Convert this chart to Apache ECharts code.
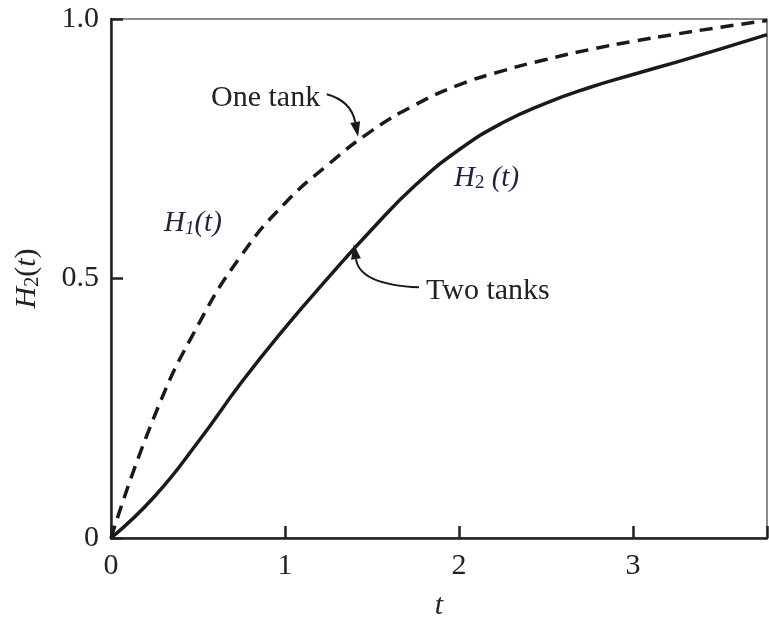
<!DOCTYPE html>
<html>
<head>
<meta charset="utf-8">
<script src="https://cdn.jsdelivr.net/npm/echarts@6/dist/echarts.min.js"></script>
<style>
html, body { margin: 0; padding: 0; background: #fff; }
#chart { width: 769px; height: 624px; }
</style>
</head>
<body>
<div id="chart"></div>
<script>
// values
var tValues = [0, 0.25, 0.5, 0.75, 1.0, 1.25, 1.5, 1.75, 2.0, 2.25, 2.5, 2.75, 3.0, 3.25, 3.5, 3.77];
var oneTank = [0, 0.235, 0.41, 0.545, 0.645, 0.72, 0.785, 0.835, 0.873, 0.90, 0.922, 0.941, 0.957, 0.971, 0.984, 0.997];
var twoTanks = [0, 0.08, 0.185, 0.30, 0.405, 0.502, 0.595, 0.68, 0.748, 0.80, 0.838, 0.868, 0.893, 0.917, 0.942, 0.97];
var xTicks = [0, 1, 2, 3];
var yTicks = [0, 0.5, 1.0];

// callout arrows: tail, bend, tip (in t / H units)
var oneTankArrow = [[1.24, 0.855], [1.38, 0.842], [1.42, 0.773]];
var twoTanksArrow = [[1.77, 0.483], [1.43, 0.488], [1.395, 0.566]];

var serif = '"Liberation Serif", "DejaVu Serif", serif';

function pairs(xs, ys) {
	var out = [];
	for (var i = 0; i < xs.length; i++) out.push([xs[i], ys[i]]);
	return out;
}

var myChart = echarts.init(document.getElementById('chart'));
var option = {
	animation: false,
	backgroundColor: '#fff',
	grid: {
		left: 111, top: 19, right: 2, bottom: 86,
		outerBoundsMode: 'none',
		containLabel: false,
		show: true, borderColor: '#666', borderWidth: 1.5
	},
	xAxis: {
		type: 'value', min: 0, max: 3.77, interval: 1,
		name: 't', nameLocation: 'middle', nameGap: 53,
		nameTextStyle: { fontFamily: serif, fontStyle: 'italic', fontSize: 30, color: '#222' },
		axisLine: { lineStyle: { color: '#222', width: 2.5 } },
		axisTick: { inside: true, length: 12, lineStyle: { color: '#222', width: 2.5 } },
		axisLabel: {
			margin: 13, fontFamily: serif, fontSize: 30, color: '#222',
			formatter: function(v) { return xTicks.indexOf(v) >= 0 ? String(v) : ''; }
		},
		splitLine: { show: false }
	},
	yAxis: {
		type: 'value', min: 0, max: 1, interval: 0.5,
		name: '{i|H}{s|2}{n|(}{i|t}{n|)}', nameLocation: 'middle', nameGap: 68,
		nameTextStyle: {
			color: '#222',
			rich: {
				i: { fontFamily: serif, fontStyle: 'italic', fontSize: 30, color: '#222' },
				n: { fontFamily: serif, fontSize: 30, color: '#222' },
				s: { fontFamily: serif, fontSize: 20, color: '#222', verticalAlign: 'bottom', padding: [12, 0, 0, 0] }
			}
		},
		axisLine: { show: true, lineStyle: { color: '#222', width: 2.5 } },
		axisTick: { show: true, inside: true, length: 12, lineStyle: { color: '#222', width: 2.5 } },
		axisLabel: {
			margin: 12, fontFamily: serif, fontSize: 30, color: '#222',
			formatter: function(v) {
				if (v === 1) return '1.0';
				return yTicks.indexOf(v) >= 0 ? String(v) : '';
			}
		},
		splitLine: { show: false }
	},
	series: [{
		name: 'One tank',
		type: 'line',
		smooth: 0.5,
		symbol: 'none',
		lineStyle: { color: '#1a1a1a', width: 3.5, type: [13, 8] },
		data: pairs(tValues, oneTank)
	}, {
		name: 'Two tanks',
		type: 'line',
		smooth: 0.5,
		symbol: 'none',
		lineStyle: { color: '#1a1a1a', width: 3.5 },
		data: pairs(tValues, twoTanks)
	}]
};
myChart.setOption(option);

// curved arrows + text, placed through the chart's own scales
function arrow(pts) {
	var p = pts.map(function(d) { return myChart.convertToPixel({ gridIndex: 0 }, d); });
	var tip = p[2], c = p[1];
	var dx = tip[0] - c[0], dy = tip[1] - c[1];
	var len = Math.sqrt(dx * dx + dy * dy);
	var ux = dx / len, uy = dy / len;
	var L = 15, W = 5;
	var bx = tip[0] - ux * L, by = tip[1] - uy * L;
	return [{
		type: 'bezierCurve',
		shape: { x1: p[0][0], y1: p[0][1], x2: bx, y2: by, cpx1: c[0], cpy1: c[1] },
		style: { stroke: '#1a1a1a', lineWidth: 2, fill: null }
	}, {
		type: 'polygon',
		shape: { points: [tip, [bx - uy * W, by + ux * W], [bx + uy * W, by - ux * W]] },
		style: { fill: '#1a1a1a' }
	}];
}

var graphics = [].concat(arrow(oneTankArrow), arrow(twoTanksArrow), [{
	type: 'text', left: 211, top: 83,
	style: { text: 'One tank', font: '30px ' + serif, fill: '#222' }
}, {
	type: 'text', left: 426, top: 276,
	style: { text: 'Two tanks', font: '30px ' + serif, fill: '#222' }
}, {
	type: 'text', left: 164, top: 209,
	style: {
		text: '{i|H}{s|1}{i|(t)}',
		rich: {
			i: { fontFamily: serif, fontStyle: 'italic', fontSize: 29, fill: '#1c2440' },
			s: { fontFamily: serif, fontStyle: 'italic', fontSize: 19, fill: '#1c2440', padding: [10, 0, 0, 0] }
		}
	}
}, {
	type: 'text', left: 454, top: 164,
	style: {
		text: '{i|H}{s|2}{i| (t)}',
		rich: {
			i: { fontFamily: serif, fontStyle: 'italic', fontSize: 29, fill: '#1c2440' },
			s: { fontFamily: serif, fontSize: 19, fill: '#1c2440', padding: [10, 0, 0, 0] }
		}
	}
}]);
myChart.setOption({ graphic: graphics });
window.onresize = myChart.resize;
</script>
</body>
</html>
